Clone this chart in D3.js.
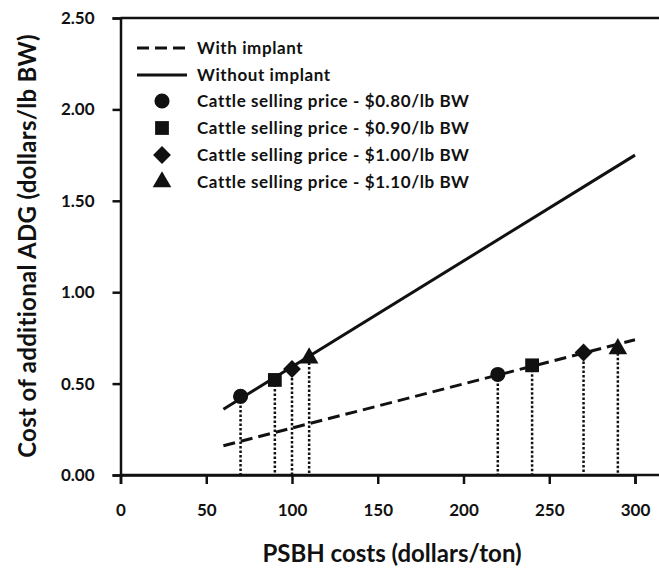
<!DOCTYPE html>
<html>
<head>
<meta charset="utf-8">
<script src="https://cdn.jsdelivr.net/npm/d3@7"></script>
<style>
  body { margin: 0; background: #fff; }
  svg text { font-family: Lato, "Open Sans", sans-serif; font-weight: bold; fill: #111; }
</style>
</head>
<body>
<div id="chart"></div>
<script>
// values
var xTicks = [0, 50, 100, 150, 200, 250, 300];
var yTicks = [0, 0.5, 1.0, 1.5, 2.0, 2.5];

var lineWithout = [[60, 0.36], [300, 1.75]];
var lineWith = [[60, 0.16], [300, 0.74]];

var prices = ["$0.80", "$0.90", "$1.00", "$1.10"];
var withoutX = [70, 90, 100, 110];
var withoutY = [0.43, 0.52, 0.58, 0.64];
var withX = [220, 240, 270, 290];
var withY = [0.55, 0.60, 0.67, 0.69];

// diamond is a square turned 45 degrees
var symbols = [d3.symbolCircle, d3.symbolSquare, d3.symbolSquare, d3.symbolTriangle];
var symSize = [180, 190, 160, 150];
var symRot = [0, 0, 45, 0];

var W = 659, H = 573;
var svg = d3.select("#chart").append("svg")
  .attr("width", W)
  .attr("height", H);

var x = d3.scaleLinear().domain([0, 300]).range([120.5, 635]);
var y = d3.scaleLinear().domain([0, 2.5]).range([475, 18]);

// frame: x axis line and top border run to the right edge
svg.append("line")
  .attr("x1", x(0)).attr("x2", W)
  .attr("y1", y(0)).attr("y2", y(0))
  .attr("stroke", "#111").attr("stroke-width", 2.5);
svg.append("line")
  .attr("x1", x(0)).attr("x2", W)
  .attr("y1", y(2.5)).attr("y2", y(2.5))
  .attr("stroke", "#111").attr("stroke-width", 2.5);

var xAxis = svg.append("g")
  .attr("transform", "translate(0," + y(0) + ")")
  .call(d3.axisBottom(x).tickValues(xTicks).tickSize(9).tickPadding(20));
var yAxis = svg.append("g")
  .attr("transform", "translate(" + x(0) + ",0)")
  .call(d3.axisLeft(y).tickValues(yTicks).tickSize(8).tickPadding(18)
    .tickFormat(d3.format(".2f")));

[xAxis, yAxis].forEach(function(g) {
  g.select(".domain").attr("stroke", "#111").attr("stroke-width", 2.5);
  g.selectAll(".tick line").attr("stroke", "#111").attr("stroke-width", 2.5);
  g.selectAll(".tick text").style("font-size", "17px").attr("fill", "#111");
});

// axis titles
svg.append("text")
  .attr("x", 392).attr("y", 562)
  .attr("text-anchor", "middle")
  .style("font-size", "24px")
  .text("PSBH costs (dollars/ton)");

svg.append("text")
  .attr("transform", "translate(36," + 246 + ") rotate(-90)")
  .attr("text-anchor", "middle")
  .style("font-size", "24px")
  .style("letter-spacing", "0.3px")
  .text("Cost of additional ADG (dollars/lb BW)");

var line = d3.line()
  .x(function(d) { return x(d[0]); })
  .y(function(d) { return y(d[1]); });

// drop lines to the x axis
function drops(xs, ys) {
  svg.selectAll(null)
    .data(xs)
    .enter()
    .append("line")
    .attr("x1", function(d) { return x(d); })
    .attr("x2", function(d) { return x(d); })
    .attr("y1", function(d, i) { return y(ys[i]); })
    .attr("y2", y(0))
    .attr("stroke", "#111")
    .attr("stroke-width", 2.5)
    .attr("stroke-dasharray", "2.5,2");
}
drops(withoutX, withoutY);
drops(withX, withY);

svg.append("path")
  .attr("d", line(lineWithout))
  .attr("fill", "none")
  .attr("stroke", "#111")
  .attr("stroke-width", 3);

svg.append("path")
  .attr("d", line(lineWith))
  .attr("fill", "none")
  .attr("stroke", "#111")
  .attr("stroke-width", 3)
  .attr("stroke-dasharray", "12,6");

function markers(xs, ys) {
  svg.selectAll(null)
    .data(xs)
    .enter()
    .append("path")
    .attr("d", function(d, i) { return d3.symbol().type(symbols[i]).size(symSize[i])(); })
    .attr("transform", function(d, i) {
      return "translate(" + x(d) + "," + y(ys[i]) + ") rotate(" + symRot[i] + ")";
    })
    .attr("fill", "#111");
}
markers(withoutX, withoutY);
markers(withX, withY);

// legend
var lg = svg.append("g");
var lx1 = 137, lx2 = 187, tx = 197;

lg.append("line")
  .attr("x1", lx1).attr("x2", lx2).attr("y1", 48).attr("y2", 48)
  .attr("stroke", "#111").attr("stroke-width", 3).attr("stroke-dasharray", "12,6");
lg.append("text").attr("x", tx).attr("y", 48).attr("dy", "0.35em")
  .style("font-size", "17px").style("letter-spacing", "0.6px").text("With implant");

lg.append("line")
  .attr("x1", lx1).attr("x2", lx2).attr("y1", 75).attr("y2", 75)
  .attr("stroke", "#111").attr("stroke-width", 3);
lg.append("text").attr("x", tx).attr("y", 75).attr("dy", "0.35em")
  .style("font-size", "17px").style("letter-spacing", "0.6px").text("Without implant");

var rowY = d3.scaleLinear().domain([0, 3]).range([101, 182]);
prices.forEach(function(p, i) {
  lg.append("path")
    .attr("d", d3.symbol().type(symbols[i]).size(symSize[i])())
    .attr("transform", "translate(162," + rowY(i) + ") rotate(" + symRot[i] + ")")
    .attr("fill", "#111");
  lg.append("text")
    .attr("x", tx).attr("y", rowY(i)).attr("dy", "0.35em")
    .style("font-size", "17px")
    .style("letter-spacing", "0.6px")
    .text("Cattle selling price - " + p + "/lb BW");
});
</script>
</body>
</html>
